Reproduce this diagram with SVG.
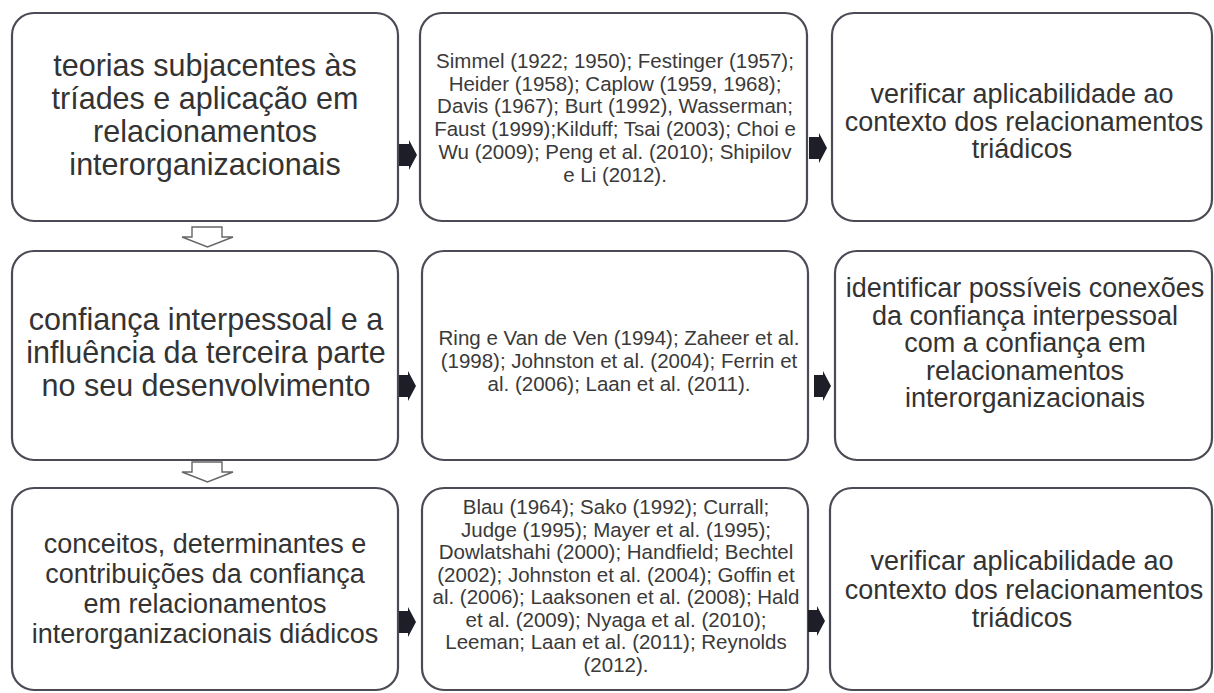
<svg xmlns="http://www.w3.org/2000/svg" width="1214" height="693" viewBox="0 0 1214 693">
<style>
.box{fill:#fff;stroke:#4a4b55;stroke-width:2.2}
.big{font-family:"Liberation Sans",Arial,sans-serif;font-size:30.5px;fill:#333;text-anchor:middle}
.mid{font-family:"Liberation Sans",Arial,sans-serif;font-size:27px;fill:#333;text-anchor:middle}
.sm{font-family:"Liberation Sans",Arial,sans-serif;font-size:20.5px;fill:#3a3a3a;text-anchor:middle}
.down{fill:#fff;stroke:#666;stroke-width:1.4}
.right{fill:#1e1e28}
</style>
<rect width="1214" height="693" fill="#fff"/>
<g id="n1">
<rect class="box" x="12" y="13" width="386" height="208" rx="22"/>
<text class="big"><tspan x="205" y="76">teorias subjacentes às</tspan><tspan x="205" y="109">tríades e aplicação em</tspan><tspan x="205" y="142">relacionamentos</tspan><tspan x="205" y="175">interorganizacionais</tspan></text>
</g>
<g id="n2">
<rect class="box" x="420" y="13" width="387" height="208" rx="22"/>
<text class="sm"><tspan x="615" y="68">Simmel (1922; 1950); Festinger (1957);</tspan><tspan x="615" y="91">Heider (1958); Caplow (1959, 1968);</tspan><tspan x="615" y="113">Davis (1967); Burt (1992), Wasserman;</tspan><tspan x="615" y="136">Faust (1999);Kilduff; Tsai (2003); Choi e</tspan><tspan x="615" y="159">Wu (2009); Peng et al. (2010); Shipilov</tspan><tspan x="615" y="182">e Li (2012).</tspan></text>
</g>
<g id="n3">
<rect class="box" x="832" y="13" width="380" height="208" rx="22"/>
<text class="mid"><tspan x="1022" y="103">verificar aplicabilidade ao</tspan><tspan x="1024" y="130.5">contexto dos relacionamentos</tspan><tspan x="1022" y="158">triádicos</tspan></text>
</g>
<g id="n4">
<rect class="box" x="12" y="251" width="386" height="209" rx="22"/>
<text class="big"><tspan x="206" y="330">confiança interpessoal e a</tspan><tspan x="206" y="363">influência da terceira parte</tspan><tspan x="206" y="396">no seu desenvolvimento</tspan></text>
</g>
<g id="n5">
<rect class="box" x="422" y="251" width="386" height="209" rx="22"/>
<text class="sm"><tspan x="619" y="345">Ring e Van de Ven (1994); Zaheer et al.</tspan><tspan x="619" y="368">(1998); Johnston et al. (2004); Ferrin et</tspan><tspan x="619" y="391">al. (2006); Laan et al. (2011).</tspan></text>
</g>
<g id="n6">
<rect class="box" x="835" y="251" width="377" height="209" rx="22"/>
<text class="mid"><tspan x="1025" y="297">identificar possíveis conexões</tspan><tspan x="1025" y="324.5">da confiança interpessoal</tspan><tspan x="1025" y="352">com a confiança em</tspan><tspan x="1025" y="379.5">relacionamentos</tspan><tspan x="1025" y="407">interorganizacionais</tspan></text>
</g>
<g id="n7">
<rect class="box" x="12" y="488" width="386" height="202" rx="22"/>
<text class="mid"><tspan x="205" y="553">conceitos, determinantes e</tspan><tspan x="205" y="583">contribuições da confiança</tspan><tspan x="205" y="613">em relacionamentos</tspan><tspan x="205" y="643">interorganizacionais diádicos</tspan></text>
</g>
<g id="n8">
<rect class="box" x="422" y="488" width="386" height="202" rx="22"/>
<text class="sm"><tspan x="616" y="514">Blau (1964); Sako (1992); Currall;</tspan><tspan x="616" y="537">Judge (1995); Mayer et al. (1995);</tspan><tspan x="616" y="559">Dowlatshahi (2000); Handfield; Bechtel</tspan><tspan x="616" y="582">(2002); Johnston et al. (2004); Goffin et</tspan><tspan x="616" y="604">al. (2006); Laaksonen et al. (2008); Hald</tspan><tspan x="616" y="627">et al. (2009); Nyaga et al. (2010);</tspan><tspan x="616" y="649">Leeman; Laan et al. (2011); Reynolds</tspan><tspan x="616" y="672">(2012).</tspan></text>
</g>
<g id="n9">
<rect class="box" x="830" y="488" width="382" height="202" rx="22"/>
<text class="mid"><tspan x="1022" y="570">verificar aplicabilidade ao</tspan><tspan x="1024" y="598.5">contexto dos relacionamentos</tspan><tspan x="1022" y="627">triádicos</tspan></text>
</g>
<g id="connectors">
<path class="down" d="M192,227 H222 V237 H233 L207.5,247 L182,237 H192 Z"/>
<path class="down" d="M192,462 H222 V472 H233 L207.5,482 L182,472 H192 Z"/>
<path class="right" d="M399,144 H409 V140 L417,155 L409,170 V166 H399 Z"/>
<path class="right" d="M809,137 H819 V133 L827,148 L819,163 V159 H809 Z"/>
<path class="right" d="M399,375 H408 V371 L416,386 L408,401 V397 H399 Z"/>
<path class="right" d="M814,375 H823 V371 L831,386 L823,401 V397 H814 Z"/>
<path class="right" d="M399,611 H408 V607 L416,622 L408,637 V633 H399 Z"/>
<path class="right" d="M808,610 H817 V606 L825,621 L817,636 V632 H808 Z"/>
</g>
</svg>
